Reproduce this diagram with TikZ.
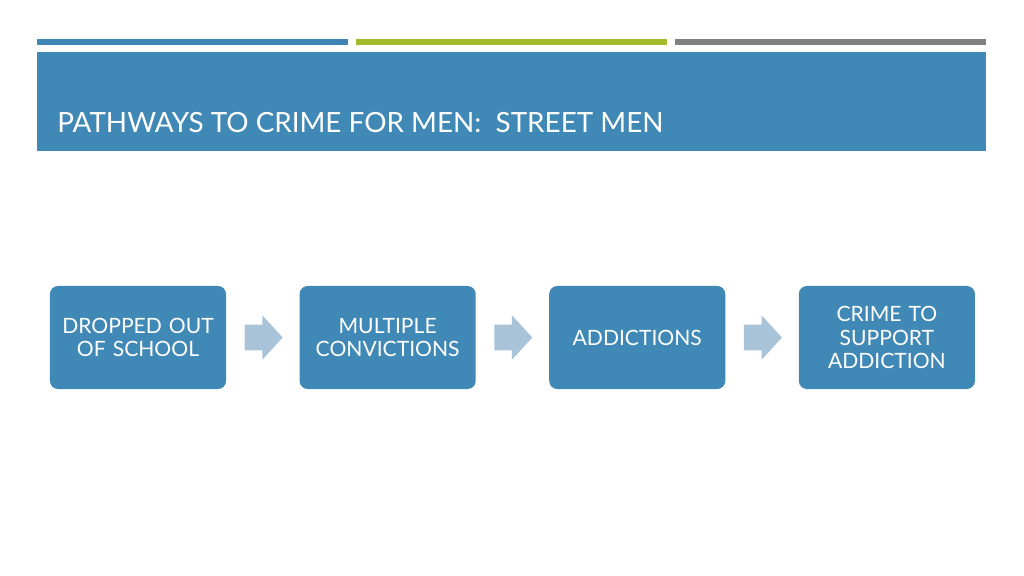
\documentclass[tikz,border=0pt]{standalone}
\usepackage{fontspec}
\setmainfont{Lato}
\usetikzlibrary{positioning,shapes.arrows,calc}

\definecolor{bandblue}{HTML}{4088B5}
\definecolor{barblue}{HTML}{3F85B6}
\definecolor{bargreen}{HTML}{A3BA2A}
\definecolor{bargray}{HTML}{808080}
\definecolor{arrowblue}{HTML}{A9C4D8}

\begin{document}
\begin{tikzpicture}[x=0.025cm,y=-0.025cm,
  stepbox/.style={fill=bandblue,rounded corners=0.2cm,minimum width=4.4cm,minimum height=2.575cm,
    text width=4.3cm,align=center,text=white,font=\fontsize{15}{16.5}\selectfont,inner sep=0pt},
  blockarrow/.style={single arrow,fill=arrowblue,inner xsep=0pt,inner ysep=0.3125cm,minimum height=0.95cm,
    single arrow head extend=0.2375cm,single arrow tip angle=95,anchor=center,xshift=-0.125cm}]
\useasboundingbox (0,0) rectangle (1024,576);
% bars and title band
\fill [barblue] (37,39) rectangle (348,45);
\fill [bargreen] (356,39) rectangle (667,45);
\fill [bargray] (675,39) rectangle (986,45);
\fill [bandblue] (37,52) rectangle (986,151);
\node (title) [anchor=base west,inner sep=0pt,text=white,font=\fontsize{19.8}{22}\selectfont] at (57,133)
  {PATHWAYS TO CRIME FOR MEN:\ \ STREET MEN};
% steps
\node (school) [stepbox] at (138,337.5) {DROPPED OUT\\OF SCHOOL};
\node (convict) [stepbox,right=1.825cm of school] {MULTIPLE\\CONVICTIONS};
\node (addict) [stepbox,right=1.825cm of convict] {ADDICTIONS};
\node (crime) [stepbox,right=1.825cm of addict] {CRIME TO\\SUPPORT\\ADDICTION};
% arrows between steps
\node (a1) [blockarrow] at ($(school.east)!0.5!(convict.west)$) {};
\node (a2) [blockarrow] at ($(convict.east)!0.5!(addict.west)$) {};
\node (a3) [blockarrow] at ($(addict.east)!0.5!(crime.west)$) {};
\end{tikzpicture}
\end{document}
